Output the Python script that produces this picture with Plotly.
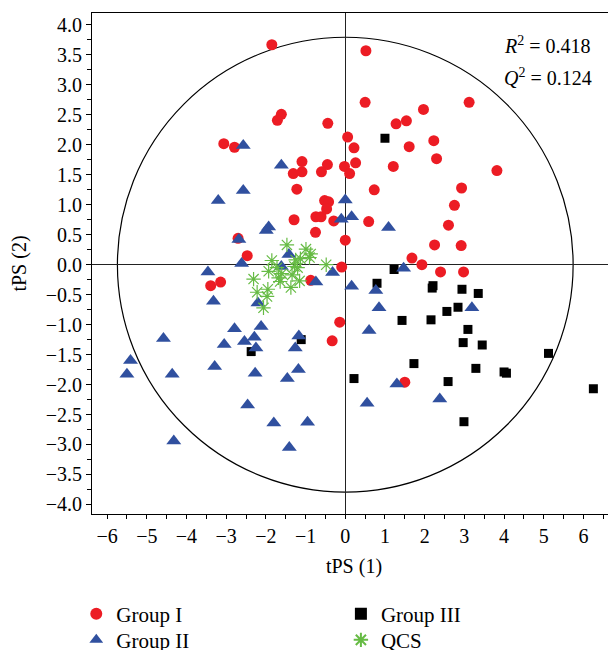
import plotly.graph_objects as go

# ---------------- data ----------------
g1_x = [-1.85, 0.52, 0.50, 3.12, 1.97, -1.61, -1.71, -0.44, 1.28, 1.54, 0.06, 0.22, 1.61, 2.23, 2.30,
        -3.06, -2.79, -1.09, -0.45, -0.02, 0.26, 1.21, -1.31, -1.09, -0.60, 0.11, 3.82, -1.22, 0.73,
        2.93, 2.75, -0.52, -0.42, -0.47, -0.74, -0.61, -1.29, -0.29, 0.59, 2.60, -0.75, 0.0, 2.25,
        2.92, -2.70, -2.47, 1.68, 1.93, -0.09, 2.40, 2.98, -3.39, -3.14, -0.87, -0.14, -0.33, 1.50]
g1_y = [3.67, 3.57, 2.71, 2.71, 2.59, 2.51, 2.41, 2.36, 2.35, 2.40, 2.13, 1.95, 1.97, 2.07, 1.77,
        2.02, 1.96, 1.72, 1.67, 1.64, 1.70, 1.64, 1.52, 1.55, 1.55, 1.52, 1.57, 1.26, 1.25,
        1.28, 0.99, 1.07, 1.05, 0.93, 0.80, 0.80, 0.75, 0.73, 0.72, 0.66, 0.54, 0.41, 0.33,
        0.32, 0.44, 0.15, 0.11, 0.0, -0.04, -0.12, -0.12, -0.35, -0.29, -0.26, -0.96, -1.27, -1.96]

g2_x = [-2.57, -1.61, -2.57, -3.20, 0.0, -0.10, 0.16, 1.09, -1.93, -1.99, -2.68, -2.61, -1.42, -1.61,
        -3.46, -0.32, -0.74, 0.16, 0.77, 1.47, -3.32, -2.20, 0.85, 3.19, -2.12, -2.79, 0.60, -4.58,
        -3.05, -2.54, -2.29, -2.25, -1.17, -1.26, -5.41, -5.50, -4.36, -3.29, -2.27, -1.46, -1.18,
        1.30, -2.46, 0.55, 2.38, -1.80, -0.95, -4.32, -1.41]
g2_y = [1.99, 1.66, 1.24, 1.07, 1.08, 0.76, 0.80, 0.62, 0.63, 0.57, 0.42, 0.02, 0.17, -0.03,
        -0.12, -0.13, -0.29, -0.36, -0.43, -0.06, -0.61, -0.64, -0.72, -0.72, -1.03, -1.07, -1.10, -1.23,
        -1.33, -1.28, -1.21, -1.39, -1.19, -1.39, -1.60, -1.83, -1.83, -1.70, -1.81, -1.90, -1.75,
        -1.99, -2.34, -2.31, -2.24, -2.64, -2.63, -2.94, -3.05]

g3_x = [1.00, 1.23, 0.80, 2.21, 2.19, 2.94, 3.35, 2.84, 2.56, 1.43, 2.16, 3.09, 2.97, 3.45, -1.11,
        -2.37, 5.12, 1.73, 3.29, 4.00, 4.06, 0.22, 2.59, 6.25, 2.99]
g3_y = [2.11, -0.08, -0.31, -0.35, -0.39, -0.41, -0.48, -0.71, -0.78, -0.93, -0.92, -1.08, -1.30, -1.34, -1.25,
        -1.45, -1.48, -1.65, -1.73, -1.79, -1.81, -1.90, -1.95, -2.07, -2.62]

qcs_x = [-1.47, -0.99, -0.87, -0.90, -1.85, -1.13, -1.25, -0.48, -1.93, -1.28, -1.20, -1.34, -1.68,
         -1.64, -1.15, -2.31, -1.60, -1.37, -2.22, -1.95, -1.97, -2.06, -1.72]
qcs_y = [0.33, 0.26, 0.18, 0.12, 0.07, 0.10, 0.08, 0.0, -0.11, -0.03, -0.05, -0.17, -0.22,
         -0.28, -0.27, -0.24, -0.15, -0.38, -0.46, -0.41, -0.53, -0.72, -0.05]

x_ticks = [-6, -5, -4, -3, -2, -1, 0, 1, 2, 3, 4, 5, 6]
r2_text = "<i>R</i><sup>2</sup> = 0.418"
q2_text = "<i>Q</i><sup>2</sup> = 0.124"

# Hotelling ellipse semi-axes
ell_a = 5.74
ell_b = 3.795

FONT = "Liberation Serif"
GREEN = "#66bb44"

fig = go.Figure()
fig.add_trace(go.Scatter(x=g1_x, y=g1_y, mode="markers", name="Group I", legend="legend",
                         marker=dict(symbol="circle", size=11, color="#ec1c24")))
fig.add_trace(go.Scatter(x=g3_x, y=g3_y, mode="markers", name="Group III", legend="legend3",
                         marker=dict(symbol="square", size=9, color="#000000")))
fig.add_trace(go.Scatter(x=g2_x, y=g2_y, mode="markers", name="Group II", legend="legend2",
                         marker=dict(symbol="triangle-up", size=13, color="#30509f")))
fig.add_trace(go.Scatter(x=qcs_x, y=qcs_y, mode="markers", name="QCS", legend="legend4",
                         marker=dict(symbol="asterisk-open", size=12, color=GREEN,
                                     line=dict(color=GREEN, width=1.2))))

fig.add_shape(type="circle", xref="x", yref="y", x0=-ell_a, x1=ell_a, y0=-ell_b, y1=ell_b,
              line=dict(color="black", width=1.2), layer="below")

fig.add_annotation(text=r2_text, xref="paper", yref="paper", x=0.783, y=0.936,
                   xanchor="left", yanchor="middle", showarrow=False,
                   font=dict(family=FONT, size=20, color="black"))
fig.add_annotation(text=q2_text, xref="paper", yref="paper", x=0.783, y=0.873,
                   xanchor="left", yanchor="middle", showarrow=False,
                   font=dict(family=FONT, size=20, color="black"))


def leg(x, y):
    return dict(x=x, y=y, xanchor="left", yanchor="top", orientation="v",
                font=dict(size=21), bgcolor="rgba(0,0,0,0)", itemsizing="constant")


# the page body has an 8px margin: figure is 608x642 so it ends at the window edge
fig.update_layout(
    width=608, height=642,
    margin=dict(l=84, r=0, t=5, b=136, autoexpand=False),
    paper_bgcolor="white", plot_bgcolor="white",
    font=dict(family=FONT, size=20, color="black"),
    xaxis=dict(range=[-6.38, 6.82], tickvals=x_ticks, ticks="outside", ticklen=4,
               tickcolor="black", showline=True, linecolor="black", linewidth=1, mirror=True,
               showgrid=False, zeroline=True, zerolinecolor="#222", zerolinewidth=1.3,
               minor=dict(dtick=0.5, tick0=0, ticks="outside", ticklen=4, tickcolor="black"),
               title=dict(text="tPS (1)", font=dict(size=20), standoff=12),
               tickfont=dict(size=20), automargin=False),
    yaxis=dict(range=[-4.16, 4.2], dtick=0.5, tick0=0, tickformat=".1f", ticks="outside",
               ticklen=5, tickcolor="black", showline=True, linecolor="black", linewidth=1,
               showgrid=False, zeroline=True, zerolinecolor="#222", zerolinewidth=1.3,
               minor=dict(dtick=0.25, tick0=0, ticks="outside", ticklen=4, tickcolor="black"),
               title=dict(text="tPS (2)", font=dict(size=20), standoff=13),
               tickfont=dict(size=20), automargin=False),
    legend=leg(-0.03, -0.159),
    legend2=leg(-0.03, -0.211),
    legend3=leg(0.475, -0.159),
    legend4=leg(0.475, -0.211),
    showlegend=True,
)

fig.write_html("out.html")
